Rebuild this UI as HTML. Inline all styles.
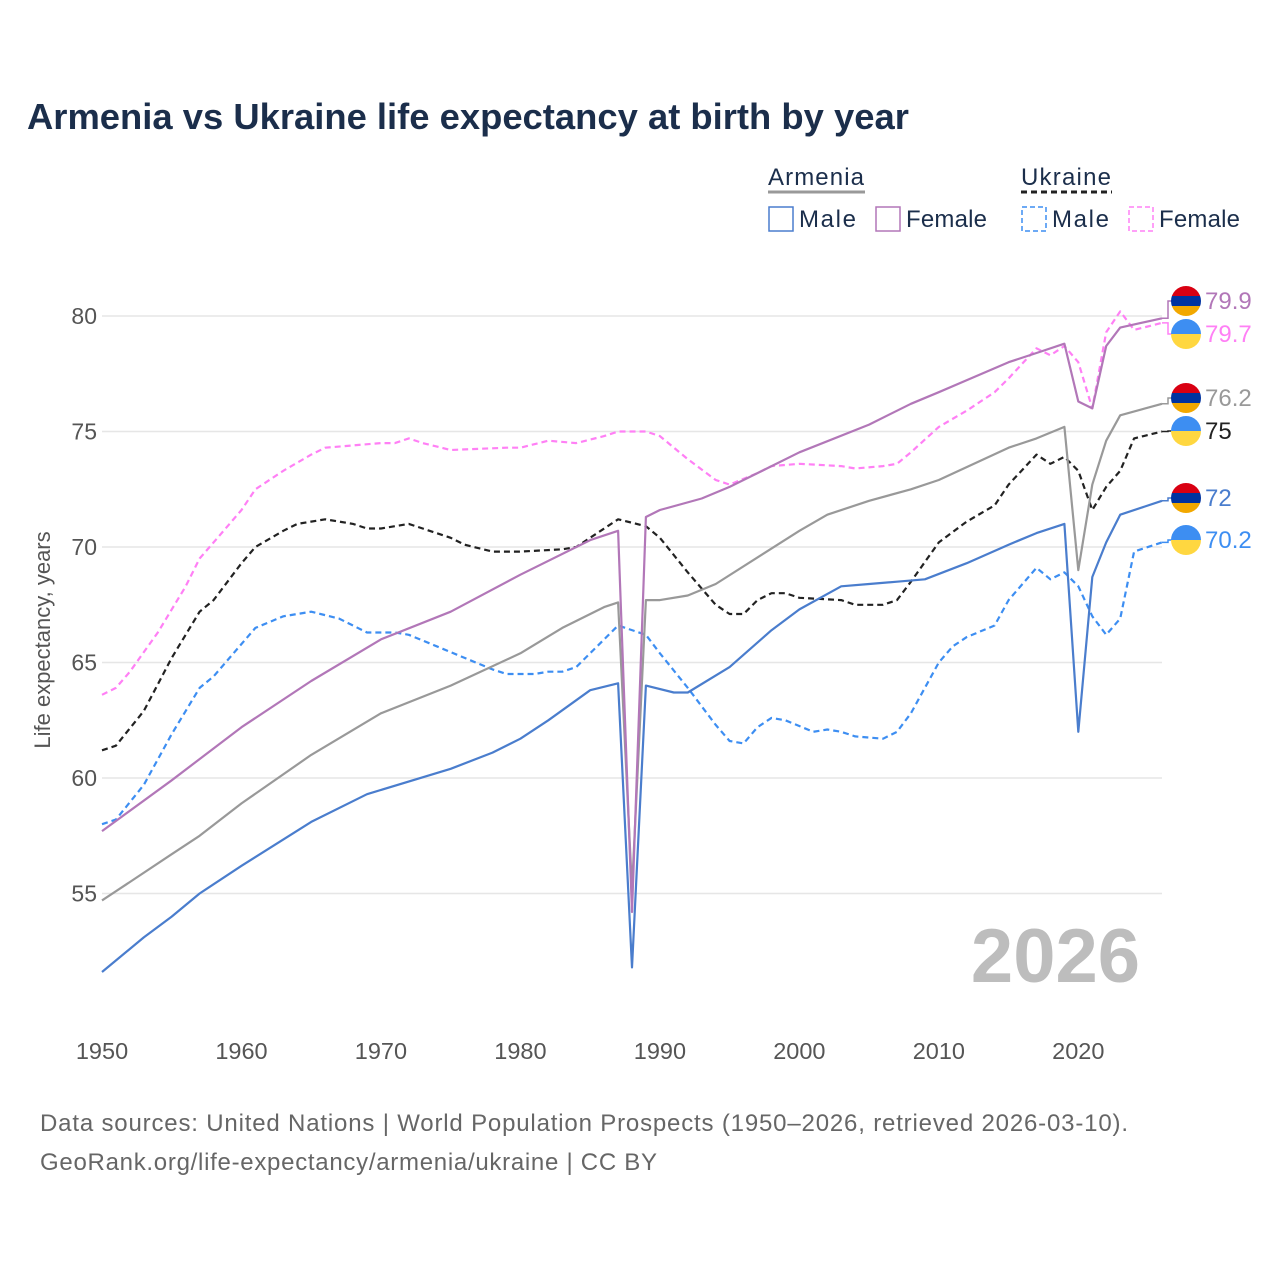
<!DOCTYPE html>
<html><head><meta charset="utf-8"><style>
body{margin:0;background:#fff;font-family:"Liberation Sans",sans-serif}
svg text{font-family:"Liberation Sans",sans-serif}
</style></head><body>
<svg id="chart" width="1280" height="1280" viewBox="0 0 1280 1280" xmlns="http://www.w3.org/2000/svg">
<text x="27" y="129" font-size="36.4" font-weight="bold" fill="#1b2e4b">Armenia vs Ukraine life expectancy at birth by year</text>
<g>
<text x="768" y="185" font-size="24" fill="#1b2e4b" textLength="96">Armenia</text>
<line x1="768" y1="192" x2="865" y2="192" stroke="#999" stroke-width="3"/>
<text x="1021" y="185" font-size="24" fill="#1b2e4b" textLength="90">Ukraine</text>
<line x1="1021" y1="192" x2="1112" y2="192" stroke="#222" stroke-width="3" stroke-dasharray="6,4"/>
<g><rect x="769" y="207" width="24" height="24" fill="none" stroke="#4a7dcd" stroke-width="1.5"/><text x="799" y="227" font-size="24" fill="#1b2e4b" textLength="57">Male</text></g>
<g><rect x="876" y="207" width="24" height="24" fill="none" stroke="#b277b8" stroke-width="1.5"/><text x="906" y="227" font-size="24" fill="#1b2e4b" textLength="81">Female</text></g>
<g><rect x="1022" y="207" width="24" height="24" fill="none" stroke="#3d8ef2" stroke-width="1.5" stroke-dasharray="5,3"/><text x="1052" y="227" font-size="24" fill="#1b2e4b" textLength="57">Male</text></g>
<g><rect x="1129" y="207" width="24" height="24" fill="none" stroke="#ff80f5" stroke-width="1.5" stroke-dasharray="5,3"/><text x="1159" y="227" font-size="24" fill="#1b2e4b" textLength="81">Female</text></g>
</g>
<g id="grid"></g>
<text x="1140" y="982" font-size="76" font-weight="bold" fill="#bdbdbd" text-anchor="end">2026</text>
<text transform="translate(50,640) rotate(-90)" font-size="22" fill="#555" text-anchor="middle">Life expectancy, years</text>
<g id="series"></g>
<g id="labels"></g>
<text x="40" y="1131" font-size="24" fill="#666" textLength="1088">Data sources: United Nations | World Population Prospects (1950–2026, retrieved 2026-03-10).</text>
<text x="40" y="1170" font-size="24" fill="#666" textLength="617">GeoRank.org/life-expectancy/armenia/ukraine | CC BY</text>
</svg>
<script>
const xTicks=[1950,1960,1970,1980,1990,2000,2010,2020];
const yTicks=[55,60,65,70,75,80];
const amYears=[1950,1953,1955,1957,1960,1965,1969,1975,1978,1980,1982,1985,1987,1988,1989,1991,1992,1995,1998,2000,2003,2005,2007,2009,2012,2015,2017,2019,2020,2021,2022,2023,2026];
const amMale=[51.6,53.1,54.0,55.0,56.2,58.1,59.3,60.4,61.1,61.7,62.5,63.8,64.1,51.8,64.0,63.7,63.7,64.8,66.4,67.3,68.3,68.4,68.5,68.6,69.3,70.1,70.6,71.0,62.0,68.7,70.2,71.4,72.0];
const atYears=[1950,1952,1955,1957,1960,1965,1970,1975,1980,1983,1986,1987,1988,1989,1990,1992,1994,2000,2002,2005,2008,2010,2015,2017,2019,2020,2021,2022,2023,2026];
const amTotal=[54.7,55.5,56.7,57.5,58.9,61.0,62.8,64.0,65.4,66.5,67.4,67.6,55.2,67.7,67.7,67.9,68.4,70.7,71.4,72.0,72.5,72.9,74.3,74.7,75.2,69.0,72.7,74.6,75.7,76.2];
const afYears=[1950,1955,1960,1965,1970,1975,1980,1985,1987,1988,1989,1990,1993,1995,2000,2005,2008,2010,2015,2017,2019,2020,2021,2022,2023,2026];
const amFemale=[57.7,59.9,62.2,64.2,66.0,67.2,68.8,70.3,70.7,54.2,71.3,71.6,72.1,72.6,74.1,75.3,76.2,76.7,78.0,78.4,78.8,76.3,76.0,78.7,79.5,79.9];
const utYears=[1950,1951,1953,1955,1957,1958,1960,1961,1963,1964,1966,1968,1969,1970,1972,1975,1976,1978,1980,1983,1984,1987,1989,1990,1992,1994,1995,1996,1997,1998,1999,2000,2003,2004,2006,2007,2008,2010,2012,2014,2015,2017,2018,2019,2020,2021,2022,2023,2024,2026];
const uaTotal=[61.2,61.4,62.9,65.2,67.2,67.7,69.3,70.0,70.7,71.0,71.2,71.0,70.8,70.8,71.0,70.4,70.1,69.8,69.8,69.9,70.0,71.2,70.9,70.4,68.9,67.5,67.1,67.1,67.7,68.0,68.0,67.8,67.7,67.5,67.5,67.7,68.5,70.2,71.1,71.8,72.7,74.0,73.6,73.9,73.3,71.6,72.6,73.3,74.7,75.0];
const umYears=[1950,1951,1953,1955,1957,1958,1960,1961,1963,1965,1967,1969,1971,1972,1974,1976,1978,1979,1981,1982,1983,1984,1986,1987,1989,1990,1992,1994,1995,1996,1997,1998,1999,2001,2002,2003,2004,2006,2007,2008,2010,2011,2012,2014,2015,2017,2018,2019,2020,2021,2022,2023,2024,2026];
const uaMale=[58.0,58.2,59.7,61.9,63.9,64.4,65.8,66.5,67.0,67.2,66.9,66.3,66.3,66.2,65.7,65.2,64.7,64.5,64.5,64.6,64.6,64.8,66.0,66.6,66.2,65.4,63.9,62.3,61.6,61.5,62.2,62.6,62.5,62.0,62.1,62.0,61.8,61.7,62.0,62.8,65.0,65.7,66.1,66.6,67.7,69.1,68.6,68.9,68.3,67.0,66.2,66.9,69.8,70.2];
const ufYears=[1950,1951,1952,1954,1956,1957,1958,1960,1961,1963,1965,1966,1968,1970,1971,1972,1973,1975,1979,1980,1982,1984,1986,1987,1989,1990,1992,1994,1995,1997,1998,2000,2003,2004,2006,2007,2008,2010,2012,2014,2015,2017,2018,2019,2020,2021,2022,2023,2024,2026];
const uaFemale=[63.6,63.9,64.6,66.3,68.3,69.5,70.2,71.6,72.5,73.3,74.0,74.3,74.4,74.5,74.5,74.7,74.5,74.2,74.3,74.3,74.6,74.5,74.8,75.0,75.0,74.8,73.8,72.9,72.7,73.2,73.5,73.6,73.5,73.4,73.5,73.6,74.1,75.2,75.9,76.7,77.3,78.6,78.3,78.7,78.0,76.0,79.3,80.2,79.4,79.7];
const endLabels=["79.9","79.7","76.2","75","72","70.2"];

const NS="http://www.w3.org/2000/svg";
const X=y=>102+(y-1950)*(1162-102)/76;
const Y=v=>316+(80-v)*23.1;
function mk(tag,attrs,parent){const e=document.createElementNS(NS,tag);for(const k in attrs)e.setAttribute(k,attrs[k]);parent.appendChild(e);return e;}
const grid=document.getElementById('grid');
yTicks.forEach(t=>{
  const l=mk('line',{x1:102,x2:1162,y1:Y(t),y2:Y(t),stroke:'#e6e6e6','stroke-width':1.5},grid);
  
  
  const tx=mk('text',{x:97,y:Y(t)+8,'font-size':23,fill:'#555','text-anchor':'end'},grid);
  tx.textContent=t;
  
  
});
xTicks.forEach(t=>{
  const tx=mk('text',{x:X(t),y:1059,'font-size':23.5,fill:'#555','text-anchor':'middle'},grid);
  tx.textContent=t;
  
  
});
const ser=document.getElementById('series');
const defs=[
 ['ukraine-female-line',ufYears,uaFemale,'#ff80f5','6,4'],
 ['ukraine-male-line',umYears,uaMale,'#3d8ef2','6,4'],
 ['ukraine-total-line',utYears,uaTotal,'#222','6,4'],
 ['armenia-total-line',atYears,amTotal,'#999',''],
 ['armenia-female-line',afYears,amFemale,'#b277b8',''],
 ['armenia-male-line',amYears,amMale,'#4a7dcd','']
];
defs.forEach(d=>{
  const pts=d[1].map((y,i)=>X(y).toFixed(1)+','+Y(d[2][i]).toFixed(1)).join(' ');
  const p=mk('polyline',{points:pts,fill:'none',stroke:d[3],'stroke-width':2.2,'stroke-dasharray':d[4],'stroke-linejoin':'round'},ser);
  
  
});
const lab=document.getElementById('labels');
const info=[
 [amFemale,'#b277b8','am',301],[uaFemale,'#ff80f5','ua',334],
 [amTotal,'#999','am',398],[uaTotal,'#222','ua',431],
 [amMale,'#4a7dcd','am',498],[uaMale,'#3d8ef2','ua',540]
];
info.forEach((f,i)=>{
  const v=f[0][f[0].length-1];const ly=f[3];
  mk('polyline',{points:`1162,${Y(v)} 1168,${Y(v)} 1168,${ly} 1172,${ly}`,fill:'none',stroke:f[1],'stroke-width':1.5},lab);
  const g=mk('g',{},lab);
  
  
  const cx=1186,r=15;
  const cp='cp'+i;
  const c=mk('clipPath',{id:cp},g);mk('circle',{cx:cx,cy:ly,r:r},c);
  if(f[2]==='am'){
    mk('rect',{x:cx-r,y:ly-r,width:30,height:10,fill:'#d90012','clip-path':`url(#${cp})`},g);
    mk('rect',{x:cx-r,y:ly-r+10,width:30,height:10,fill:'#0033a0','clip-path':`url(#${cp})`},g);
    mk('rect',{x:cx-r,y:ly-r+20,width:30,height:10,fill:'#f2a800','clip-path':`url(#${cp})`},g);
  }else{
    mk('rect',{x:cx-r,y:ly-r,width:30,height:15,fill:'#3d8ef2','clip-path':`url(#${cp})`},g);
    mk('rect',{x:cx-r,y:ly,width:30,height:15,fill:'#ffd740','clip-path':`url(#${cp})`},g);
  }
  const t=mk('text',{x:1205,y:ly+8,'font-size':24,fill:f[1]},lab);
  t.textContent=endLabels[i];
  
  
});
</script>
</body></html>
